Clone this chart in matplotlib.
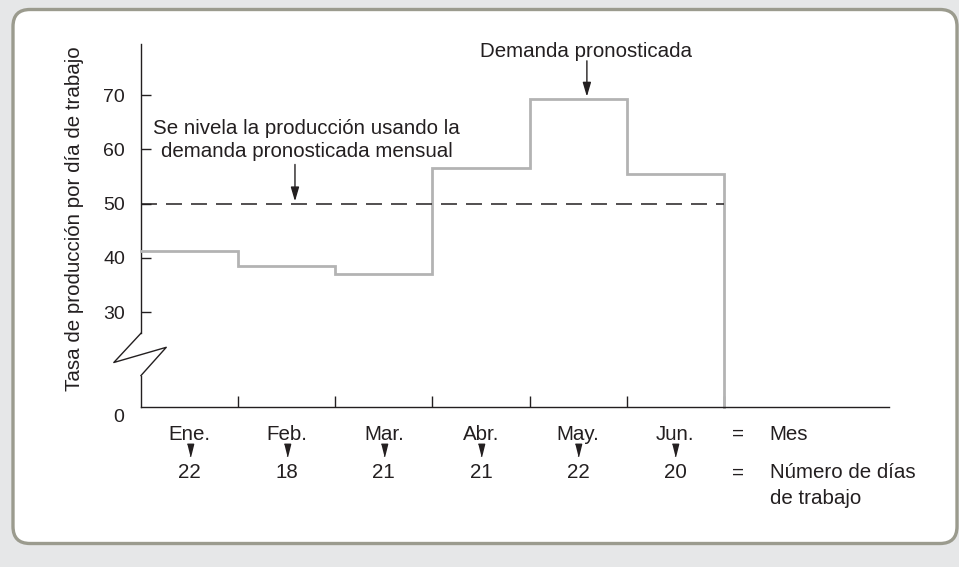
import matplotlib
matplotlib.use("Agg")
import matplotlib.pyplot as plt
from matplotlib.patches import FancyBboxPatch
from matplotlib.transforms import blended_transform_factory

plt.rcParams['font.family'] = ['Liberation Sans', 'DejaVu Sans']
plt.rcParams['lines.scale_dashes'] = False

# ---- data ----
months = ["Ene.", "Feb.", "Mar.", "Abr.", "May.", "Jun."]
work_days = [22, 18, 21, 21, 22, 20]
demand_rate = [41.3, 38.5, 37.0, 56.6, 69.3, 55.5]
level_rate = 50
yticks = [30, 40, 50, 60, 70]

TXT = "#231f20"
GRAY = "#b3b3b3"
FS = 14.8
FS_TICK = 14.0

fig = plt.figure(figsize=(9.59, 5.67), dpi=100)
fig.patch.set_facecolor("#e6e7e8")

# rounded white panel
box = FancyBboxPatch((0.13, 0.235), 9.44, 5.34,
                     boxstyle="round,pad=0,rounding_size=0.17",
                     transform=fig.dpi_scale_trans,
                     facecolor="white", edgecolor="#9b9b8e", linewidth=2.4,
                     zorder=-5)
fig.patches.append(box)

ax = fig.add_axes([141/959, 1-407/567, 748/959, 363/567])
ax.set_zorder(1)
ax.set_facecolor("none")
ybot, ytop = 12.5, 79.4
ax.set_xlim(0, 7.7)
ax.set_ylim(ybot, ytop)

for s in ["top", "right", "left"]:
    ax.spines[s].set_visible(False)
ax.spines["bottom"].set_color(TXT)
ax.spines["bottom"].set_linewidth(1.0)

# y axis with break
ax.plot([0, 0], [ytop, 26.1], color=TXT, lw=1.0, clip_on=False)
ax.plot([0, -0.28, 0.26, 0], [26.1, 20.7, 23.5, 18.3], color=TXT, lw=1.0, clip_on=False)
ax.plot([0, 0], [18.3, ybot], color=TXT, lw=1.0, clip_on=False)

ax.set_yticks(yticks)
ax.set_yticklabels([str(v) for v in yticks])
ax.tick_params(axis="y", direction="in", length=7, width=1.0, color=TXT,
               labelsize=FS_TICK, labelcolor=TXT, pad=11.5)
ax.set_xticks(range(1, len(months) + 1))
ax.set_xticklabels([])
ax.tick_params(axis="x", direction="in", length=8, width=1.0, color=TXT)

ax.text(-0.0227, -0.030, "0", transform=ax.transAxes, ha="right", va="center",
        fontsize=FS_TICK, color=TXT)

# step line of forecast demand
xs = list(range(len(months) + 1)) + [len(months)]
ys = demand_rate + [demand_rate[-1], ybot]
ax.plot(xs, ys, drawstyle="steps-post", color=GRAY, lw=2.0, clip_on=False,
        solid_joinstyle="miter")

# level production dashed line
ax.plot([0, len(months)], [level_rate, level_rate], color=TXT, lw=1.1,
        dashes=(11.5, 6.5))

# y label
ax.text(-0.089, 0.52, "Tasa de producción por día de trabajo", transform=ax.transAxes,
        rotation=90, ha="center", va="center", fontsize=FS, color=TXT)

# annotations
arrow_kw = dict(arrowstyle="-|>,head_length=0.85,head_width=0.25",
                color=TXT, lw=1.0, shrinkA=0, shrinkB=0)
ax.text(0.12, 63.9, "Se nivela la producción usando la", ha="left", va="center",
        fontsize=FS, color=TXT)
ax.text(0.205, 59.5, "demanda pronosticada mensual", ha="left", va="center",
        fontsize=FS, color=TXT)
ax.annotate("", xy=(1.585, 50.4), xytext=(1.585, 57.2), arrowprops=arrow_kw)
ax.text(4.58, 78.0, "Demanda pronosticada", ha="center", va="center",
        fontsize=FS, color=TXT, clip_on=False)
ax.annotate("", xy=(4.59, 69.7), xytext=(4.59, 76.3), arrowprops=arrow_kw,
            annotation_clip=False)

# bottom labels
bt = blended_transform_factory(ax.transData, ax.transAxes)
y_month = (407 - 434) / 363
y_tri = (407 - 450) / 363
y_days = (407 - 473) / 363
y_days2 = (407 - 499) / 363
tri = [(-2.5, 5), (2.5, 5), (0, -5)]
for i, (m, d) in enumerate(zip(months, work_days)):
    cx = i + 0.5
    ax.text(cx, y_month, m, transform=bt, ha="center", va="center", fontsize=FS, color=TXT)
    ax.plot([cx], [y_tri], transform=bt, marker=tri, markersize=9, color=TXT,
            linestyle="none", clip_on=False)
    ax.text(cx, y_days, str(d), transform=bt, ha="center", va="center", fontsize=FS, color=TXT)

ax.text(6.15, y_month, "=", transform=bt, ha="center", va="center", fontsize=FS, color=TXT)
ax.text(6.47, y_month, "Mes", transform=bt, ha="left", va="center", fontsize=FS, color=TXT)
ax.text(6.15, y_days, "=", transform=bt, ha="center", va="center", fontsize=FS, color=TXT)
ax.text(6.47, y_days, "Número de días", transform=bt, ha="left", va="center", fontsize=FS, color=TXT)
ax.text(6.47, y_days2, "de trabajo", transform=bt, ha="left", va="center", fontsize=FS, color=TXT)

fig.savefig("out.png", dpi=100, facecolor=fig.get_facecolor())
